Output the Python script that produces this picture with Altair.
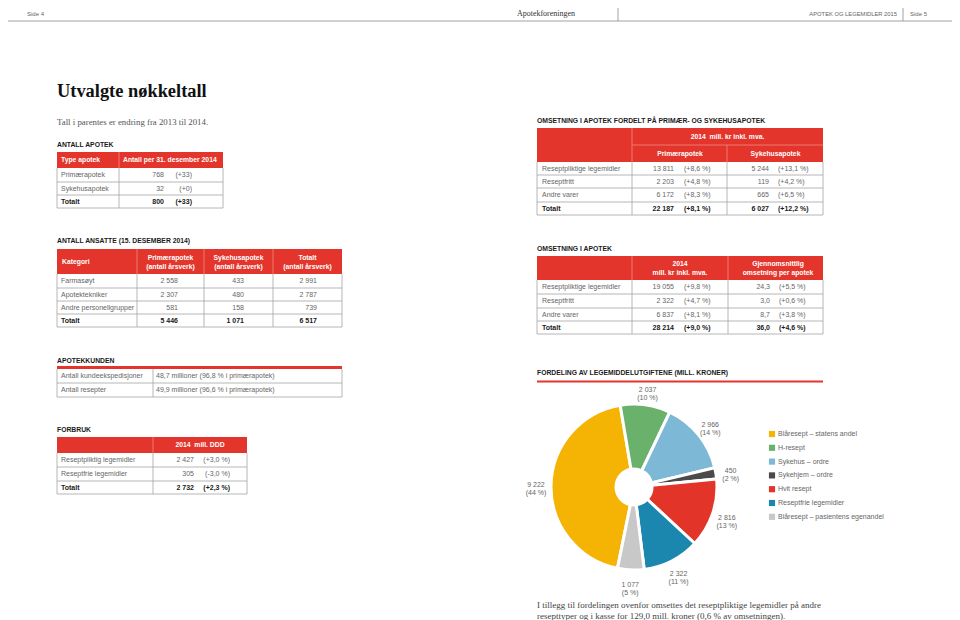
import math
import altair as alt
import pandas as pd

# ---------------- data ----------------
apotek_typer = ["Primærapotek", "Sykehusapotek", "Totalt"]
apotek_antall = [768, 32, 800]
apotek_endring = [33, 0, 33]

oms_kategorier = ["Reseptpliktige legemidler", "Reseptfritt", "Andre varer", "Totalt"]
oms_primaer = [13811, 2203, 6172, 22187]
oms_primaer_endring = [8.6, 4.8, 8.3, 8.1]
oms_sykehus = [5244, 119, 665, 6027]
oms_sykehus_endring = [13.1, 4.2, 6.5, 12.2]

ansatte_kategorier = ["Farmasøyt", "Apotektekniker", "Andre personellgrupper", "Totalt"]
ansatte_primaer = [2558, 2307, 581, 5446]
ansatte_sykehus = [433, 480, 158, 1071]
ansatte_totalt = [2991, 2787, 739, 6517]

omsetning_kategorier = ["Reseptpliktige legemidler", "Reseptfritt", "Andre varer", "Totalt"]
omsetning_2014 = [19055, 2322, 6837, 28214]
omsetning_2014_endring = [9.8, 4.7, 8.1, 9.0]
omsetning_snitt = [24.3, 3.0, 8.7, 36.0]
omsetning_snitt_endring = [5.5, 0.6, 3.8, 4.6]

kunden_kategorier = ["Antall kundeekspedisjoner", "Antall resepter"]
kunden_verdier = ["48,7 millioner (96,8 % i primærapotek)", "49,9 millioner (96,6 % i primærapotek)"]

forbruk_kategorier = ["Reseptpliktig legemidler", "Reseptfrie legemidler", "Totalt"]
forbruk_verdier = [2427, 305, 2732]
forbruk_endring = [3.0, -3.0, 2.3]

pie_kategorier = ["Blåresept – statens andel", "H-resept", "Sykehus – ordre", "Sykehjem – ordre",
                  "Hvit resept", "Reseptfrie legemidler", "Blåresept – pasientens egenandel"]
pie_verdier = [9222, 2037, 2966, 450, 2816, 2322, 1077]
pie_prosent = [44, 10, 14, 2, 13, 11, 5]
pie_farger = ["#F5B303", "#6AB26B", "#7DB8D6", "#4A4A4A", "#E3342A", "#1B87AE", "#C8C8C8"]

# ---------------- helpers ----------------
RED = "#E3352B"
PINK = "#F08A80"
GRAY = "#A3A3A3"
SANS = "Liberation Sans"
SERIF = "Liberation Serif"

texts, rules, rects = [], [], []


def T(x, y, s, style):
    texts.append(dict(x=x, y=y, text=s, style=style))


def L(x, y, x2, y2, color=GRAY, w=0.8):
    rules.append(dict(x=x, y=y, x2=x2, y2=y2, color=color, w=w))


def R(x, x2, y, y2, color=RED):
    rects.append(dict(x=x, x2=x2, y=y, y2=y2, color=color))


def num(v):
    return f"{v:,}".replace(",", " ")


def dec(v):
    return f"{v:.1f}".replace(".", ",")


def pct(v):
    return f"({'+' if v >= 0 else '-'}{dec(abs(v))} %)"


def mids(b):
    return [(a + c) / 2 for a, c in zip(b[:-1], b[1:])]


def grid(left, right, divs, top, body, bounds, head_divs=None):
    if head_divs is None:
        head_divs = [(d, top) for d in divs]
    if body > top:
        R(left, right, top, body)
    for d, t in head_divs:
        L(d, t, d, body, PINK)
    bottom = bounds[-1]
    for d in divs:
        L(d, body, d, bottom)
    L(left, body, left, bottom)
    L(right, body, right, bottom)
    for y in bounds[1:]:
        L(left, y, right, y)


def st(bold, side):
    return ("bold_" if bold else "body_") + side


# ---------------- page header ----------------
L(8, 21, 952, 21, "#8a8a8a", 0.8)
L(618, 8, 618, 21, "#8a8a8a", 0.8)
L(903, 8, 903, 21, "#8a8a8a", 0.8)
T(27, 13.5, "Side 4", "ph_l")
T(546, 13.5, "Apotekforeningen", "ph_c")
T(897, 13.5, "APOTEK OG LEGEMIDLER 2015", "ph_r")
T(910, 13.5, "Side 5", "ph_l")

T(57, 91, "Utvalgte nøkkeltall", "title")
T(57, 122, "Tall i parentes er endring fra 2013 til 2014.", "sub")

# ---------------- ANTALL APOTEK ----------------
T(57, 145, "ANTALL APOTEK", "section")
b = [168, 182, 195, 208]
grid(57, 223, [119], 152, 168, b)
T(61, 160, "Type apotek", "head_l")
T(123, 160, "Antall per 31. desember 2014", "head_l")
for yc, k, a, e in zip(mids(b), apotek_typer, apotek_antall, apotek_endring):
    bold = k == "Totalt"
    T(61, yc, k, st(bold, "l"))
    T(164, yc, num(a), st(bold, "r"))
    T(192, yc, f"(+{e})", st(bold, "r"))

# ---------------- OMSETNING FORDELT ----------------
T(537, 121, "OMSETNING I APOTEK FORDELT PÅ PRIMÆR- OG SYKEHUSAPOTEK", "section")
b = [162, 175, 188, 202, 215]
grid(537, 823, [632, 727], 128, 162, b, head_divs=[(632, 128), (727, 145)])
L(632, 145, 823, 145, PINK)
T(727.5, 137, "2014\u00a0 mill. kr inkl. mva.", "head_c")
T(680, 154, "Primærapotek", "head_c")
T(775.5, 154, "Sykehusapotek", "head_c")
for yc, k, p, pe, s, se in zip(mids(b), oms_kategorier, oms_primaer, oms_primaer_endring,
                               oms_sykehus, oms_sykehus_endring):
    bold = k == "Totalt"
    T(542, yc, k, st(bold, "l"))
    T(674, yc, num(p), st(bold, "r"))
    T(684, yc, pct(pe), st(bold, "l"))
    T(769, yc, num(s), st(bold, "r"))
    T(778, yc, pct(se), st(bold, "l"))

# ---------------- ANTALL ANSATTE ----------------
T(57, 241, "ANTALL ANSATTE (15. DESEMBER 2014)", "section")
b = [274, 288, 301, 314, 327]
grid(57, 342, [137, 204, 273], 249, 274, b)
T(62, 262, "Kategori", "head_l")
T(170.5, 258, "Primærapotek\n(antall årsverk)", "head_c")
T(238.5, 258, "Sykehusapotek\n(antall årsverk)", "head_c")
T(307.5, 258, "Totalt\n(antall årsverk)", "head_c")
for yc, k, p, s, t in zip(mids(b), ansatte_kategorier, ansatte_primaer, ansatte_sykehus, ansatte_totalt):
    bold = k == "Totalt"
    T(61, yc, k, st(bold, "l"))
    T(178, yc, num(p), st(bold, "r"))
    T(244, yc, num(s), st(bold, "r"))
    T(317, yc, num(t), st(bold, "r"))

# ---------------- OMSETNING I APOTEK ----------------
T(537, 249, "OMSETNING I APOTEK", "section")
b = [280, 294, 308, 321, 334]
grid(537, 823, [632, 728], 256, 280, b)
T(680, 264, "2014\nmill. kr inkl. mva.", "head_c")
T(778, 264, "Gjennomsnittlig\nomsetning per apotek", "head_c")
for yc, k, v, ve, s, se in zip(mids(b), omsetning_kategorier, omsetning_2014, omsetning_2014_endring,
                               omsetning_snitt, omsetning_snitt_endring):
    bold = k == "Totalt"
    T(542, yc, k, st(bold, "l"))
    T(674, yc, num(v), st(bold, "r"))
    T(684, yc, pct(ve), st(bold, "l"))
    T(770, yc, dec(s), st(bold, "r"))
    T(779, yc, pct(se), st(bold, "l"))

# ---------------- APOTEKKUNDEN ----------------
T(57, 361, "APOTEKKUNDEN", "section")
R(57, 342, 366, 369)
b = [369, 383, 397]
grid(57, 342, [153], 369, 369, b)
for yc, k, v in zip(mids(b), kunden_kategorier, kunden_verdier):
    T(61, yc, k, "body_l")
    T(156, yc, v, "body_l")

# ---------------- FORBRUK ----------------
T(57, 430, "FORBRUK", "section")
b = [453, 467, 481, 494]
grid(57, 247, [153], 437, 453, b)
T(200, 445, "2014\u00a0 mill. DDD", "head_c")
for yc, k, v, e in zip(mids(b), forbruk_kategorier, forbruk_verdier, forbruk_endring):
    bold = k == "Totalt"
    T(61, yc, k, st(bold, "l"))
    T(194, yc, num(v), st(bold, "r"))
    T(230, yc, pct(e), st(bold, "r"))

# ---------------- FORDELING (donut) ----------------
T(537, 373, "FORDELING AV LEGEMIDDELUTGIFTENE (MILL. KRONER)", "section")
L(537, 381.5, 823, 381.5, RED, 2)

leg_y = [434 + i * 13.8 for i in range(len(pie_kategorier))]
for yy, k in zip(leg_y, pie_kategorier):
    T(778, yy, k, "legend")

T(537, 604.5, "I tillegg til fordelingen ovenfor omsettes det reseptpliktige legemidler på andre\n"
              "resepttyper og i kasse for 129,0 mill. kroner (0,6 % av omsetningen).", "foot")

# ---------------- build chart ----------------
# the page is 960 x 620 with an 8 px margin; the chart covers y = 8 .. 620
XS = alt.Scale(domain=[8, 952], nice=False, zero=False)
YS = alt.Scale(domain=[8, 620], nice=False, zero=False, reverse=True)
X = alt.X("x:Q", scale=XS, axis=None)
Y = alt.Y("y:Q", scale=YS, axis=None)

base_txt = dict(baseline="middle", lineBreak="\n")
STYLES = {
    "body_l": dict(align="left", font=SANS, fontSize=7, color="#666666"),
    "body_r": dict(align="right", font=SANS, fontSize=7, color="#666666"),
    "bold_l": dict(align="left", font=SANS, fontSize=7, fontWeight="bold", color="#1a1a1a"),
    "bold_r": dict(align="right", font=SANS, fontSize=7, fontWeight="bold", color="#1a1a1a"),
    "head_l": dict(align="left", font=SANS, fontSize=6.8, fontWeight="bold", color="white"),
    "head_c": dict(align="center", font=SANS, fontSize=6.8, fontWeight="bold", color="white", lineHeight=8.5),
    "section": dict(align="left", font=SANS, fontSize=6.8, fontWeight="bold", color="#1a1a1a"),
    "title": dict(align="left", font=SERIF, fontSize=18.4, fontWeight="bold", color="#111111"),
    "sub": dict(align="left", font=SERIF, fontSize=8.8, color="#555555"),
    "foot": dict(align="left", font=SERIF, fontSize=9, color="#444444", lineHeight=11),
    "ph_l": dict(align="left", font=SANS, fontSize=6, color="#666666"),
    "ph_r": dict(align="right", font=SANS, fontSize=5.8, color="#666666"),
    "ph_c": dict(align="center", font=SERIF, fontSize=8, color="#333333"),
    "legend": dict(align="left", font=SANS, fontSize=7, color="#666666"),
}

layers = []
rect_df = pd.DataFrame(rects)
layers.append(alt.Chart(rect_df).mark_rect().encode(
    x=X, x2="x2:Q", y=Y, y2="y2:Q", color=alt.Color("color:N", scale=None)))
rule_df = pd.DataFrame(rules)
layers.append(alt.Chart(rule_df).mark_rule().encode(
    x=X, x2="x2:Q", y=Y, y2="y2:Q", color=alt.Color("color:N", scale=None),
    strokeWidth=alt.StrokeWidth("w:Q", scale=None)))

txt_df = pd.DataFrame(texts)
for name, kw in STYLES.items():
    sub = txt_df[txt_df["style"] == name]
    if len(sub) == 0:
        continue
    layers.append(alt.Chart(sub).mark_text(**base_txt, **kw).encode(x=X, y=Y, text="text:N"))

# legend squares
leg_df = pd.DataFrame(dict(x=[772] * len(leg_y), y=leg_y, farge=pie_farger))
layers.append(alt.Chart(leg_df).mark_square(size=38, opacity=1).encode(
    x=X, y=Y, color=alt.Color("farge:N", scale=None)))

# donut
pie_df = pd.DataFrame(dict(kategori=pie_kategorier, verdi=pie_verdier, farge=pie_farger,
                           idx=list(range(len(pie_verdier))),
                           label=[f"{num(v)}\n({p} %)" for v, p in zip(pie_verdier, pie_prosent)]))
pie_df["x"] = 634
pie_df["y"] = 487
start = math.radians(191.5)
theta = alt.Theta("verdi:Q", stack=True, scale=alt.Scale(range=[start, start + 2 * math.pi]))
layers.append(alt.Chart(pie_df).mark_arc(innerRadius=18, outerRadius=83, stroke="white", strokeWidth=3).encode(
    theta=theta, color=alt.Color("farge:N", scale=None), order=alt.Order("idx:Q"), x=X, y=Y))
layers.append(alt.Chart(pie_df).mark_text(radius=98, baseline="middle", lineBreak="\n", lineHeight=8,
                                          font=SANS, fontSize=7, color="#666666", align="center").encode(
    theta=theta, order=alt.Order("idx:Q"), x=X, y=Y, text="label:N"))

chart = alt.layer(*layers).properties(
    width=944, height=612, padding=0, autosize=alt.AutoSizeParams(type="none"), background="white"
).configure_view(strokeWidth=0)

chart.save("out.html", embed_options={"renderer": "svg", "actions": False})
